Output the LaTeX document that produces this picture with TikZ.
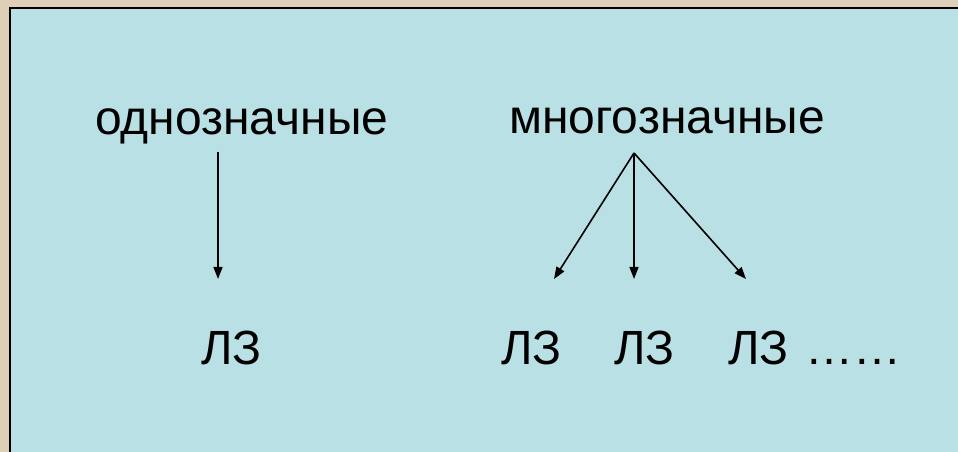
\documentclass[tikz,border=0pt]{standalone}
\usepackage{fontspec}
\setmainfont{Liberation Sans}
\usetikzlibrary{arrows.meta}
\definecolor{beige}{RGB}{222,208,182}
\definecolor{panel}{RGB}{185,224,228}
\begin{document}
\begin{tikzpicture}[x=1pt,y=1pt,
  lbl/.style={inner sep=0pt,anchor=base west,font=\fontsize{48}{58}\selectfont},
  arr/.style={line width=1.6pt,-{Triangle[length=12pt,width=9pt]}}]
\useasboundingbox (0,0) rectangle (958,452);
\fill[beige] (0,0) rectangle (958,452);
\fill[panel,draw=black,line width=2.2pt] (10,-10) rectangle (970,444);
\node[lbl] (od) at (95,317) {однозначные};
\node[lbl] (mn) at (509,318) {многозначные};
\node[lbl] (lz0) at (201,87) {ЛЗ};
\node[lbl] (lz1) at (501,87) {ЛЗ};
\node[lbl] (lz2) at (614,87) {ЛЗ};
\node[lbl] (lz3) at (728,87) {ЛЗ};
\node[lbl] (dots) at (805,87) {……};
\coordinate (s0) at (218,300);
\coordinate (e0) at (218,173);
\coordinate (ap) at (634,299);
\coordinate (e1) at (554,173);
\coordinate (e2) at (634,173);
\coordinate (e3) at (746,173);
\draw[arr] (s0) -- (e0);
\draw[arr] (ap) -- (e1);
\draw[arr] (ap) -- (e2);
\draw[arr] (ap) -- (e3);
\end{tikzpicture}
\end{document}
